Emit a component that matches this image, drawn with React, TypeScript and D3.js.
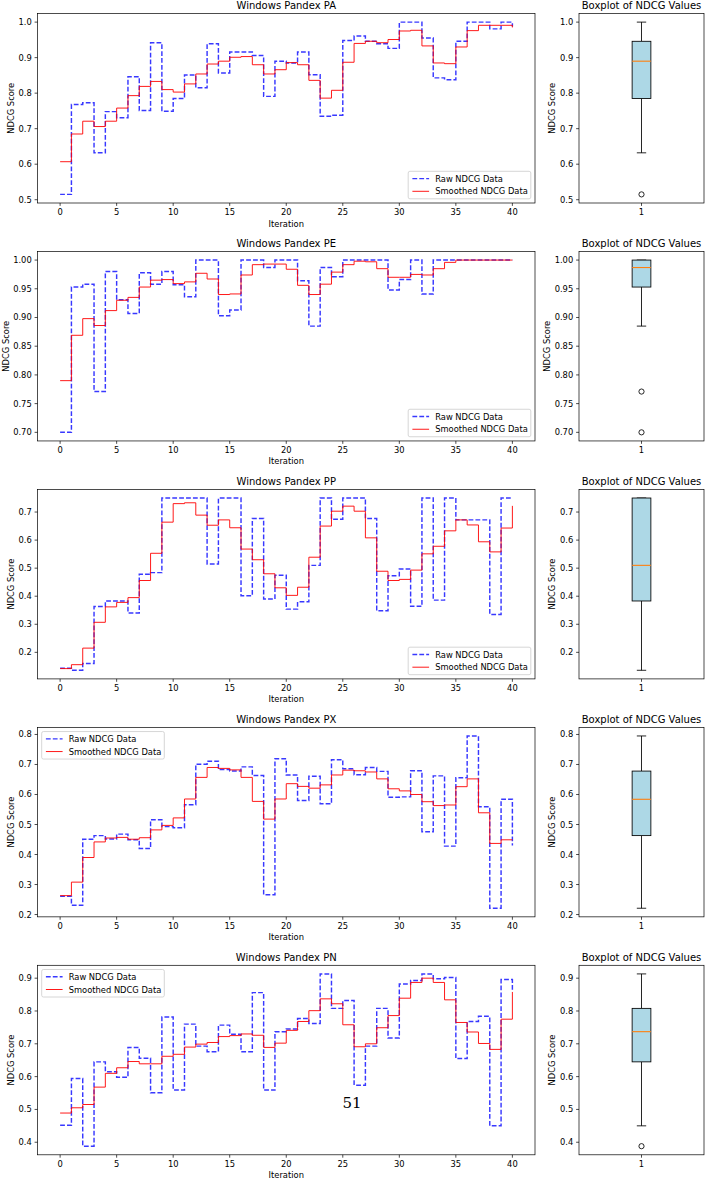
import React from 'react';
import * as d3 from 'd3';

// ---- data ----
const titles = ['Windows Pandex PA', 'Windows Pandex PE', 'Windows Pandex PP', 'Windows Pandex PX', 'Windows Pandex PN'];
const legendCorners = ['lower right', 'lower right', 'lower right', 'upper left', 'upper left'];
const seriesNames = ['Raw NDCG Data', 'Smoothed NDCG Data'];
const boxCategories = ['1'];

const rawPA = [0.515, 0.768, 0.773, 0.632, 0.748, 0.731, 0.846, 0.751, 0.942, 0.749, 0.785, 0.851, 0.815, 0.939, 0.857, 0.916, 0.916, 0.906, 0.791, 0.890, 0.885, 0.916, 0.852, 0.735, 0.738, 0.948, 0.961, 0.946, 0.939, 0.926, 1.0, 1.0, 0.955, 0.843, 0.838, 0.946, 1.0, 1.0, 0.981, 1.0, 0.988];
const smoothPA = [0.607, 0.685, 0.721, 0.706, 0.721, 0.758, 0.793, 0.819, 0.833, 0.810, 0.803, 0.826, 0.854, 0.882, 0.890, 0.901, 0.903, 0.880, 0.854, 0.866, 0.886, 0.880, 0.836, 0.786, 0.808, 0.887, 0.940, 0.946, 0.942, 0.951, 0.975, 0.977, 0.933, 0.885, 0.883, 0.930, 0.976, 0.991, 0.991, 0.991, 0.985];

const rawPE = [0.700, 0.953, 0.958, 0.771, 0.980, 0.931, 0.907, 0.978, 0.958, 0.980, 0.957, 0.936, 1.0, 1.0, 0.903, 0.913, 1.0, 1.0, 0.987, 1.0, 1.0, 0.964, 0.885, 0.987, 0.971, 1.0, 1.0, 1.0, 1.0, 0.948, 0.966, 1.0, 0.941, 1.0, 1.0, 1.0, 1.0, 1.0, 1.0, 1.0, 1.0];
const smoothPE = [0.790, 0.869, 0.898, 0.886, 0.912, 0.930, 0.935, 0.953, 0.965, 0.966, 0.959, 0.962, 0.977, 0.967, 0.940, 0.941, 0.974, 0.992, 0.993, 0.993, 0.984, 0.956, 0.940, 0.958, 0.979, 0.992, 0.998, 0.997, 0.985, 0.970, 0.970, 0.975, 0.974, 0.985, 0.996, 1.0, 1.0, 1.0, 1.0, 1.0, 1.0];

const rawPP = [0.143, 0.136, 0.160, 0.363, 0.383, 0.383, 0.340, 0.478, 0.484, 0.750, 0.750, 0.750, 0.750, 0.515, 0.750, 0.750, 0.402, 0.677, 0.390, 0.475, 0.354, 0.380, 0.510, 0.750, 0.674, 0.750, 0.750, 0.677, 0.348, 0.473, 0.497, 0.364, 0.750, 0.386, 0.750, 0.672, 0.672, 0.672, 0.335, 0.750, 0.750];
const smoothPP = [0.142, 0.156, 0.215, 0.307, 0.362, 0.378, 0.395, 0.456, 0.553, 0.664, 0.730, 0.733, 0.689, 0.653, 0.672, 0.644, 0.568, 0.530, 0.480, 0.430, 0.403, 0.432, 0.539, 0.650, 0.703, 0.721, 0.703, 0.608, 0.489, 0.456, 0.460, 0.493, 0.551, 0.578, 0.633, 0.672, 0.654, 0.594, 0.558, 0.643, 0.722];

const rawPX = [0.261, 0.231, 0.451, 0.463, 0.452, 0.468, 0.449, 0.420, 0.516, 0.493, 0.489, 0.566, 0.701, 0.711, 0.683, 0.678, 0.692, 0.663, 0.266, 0.719, 0.665, 0.580, 0.661, 0.569, 0.716, 0.686, 0.666, 0.690, 0.677, 0.591, 0.592, 0.679, 0.476, 0.662, 0.428, 0.656, 0.795, 0.559, 0.221, 0.584, 0.430];
const smoothPX = [0.263, 0.308, 0.390, 0.442, 0.455, 0.457, 0.451, 0.456, 0.482, 0.497, 0.522, 0.585, 0.657, 0.690, 0.687, 0.682, 0.657, 0.577, 0.518, 0.585, 0.636, 0.627, 0.621, 0.632, 0.665, 0.681, 0.679, 0.675, 0.652, 0.619, 0.612, 0.600, 0.576, 0.563, 0.565, 0.626, 0.652, 0.539, 0.437, 0.449, 0.449];

const rawPN = [0.452, 0.594, 0.388, 0.645, 0.615, 0.598, 0.689, 0.656, 0.551, 0.782, 0.559, 0.760, 0.693, 0.676, 0.757, 0.729, 0.676, 0.856, 0.559, 0.737, 0.745, 0.777, 0.762, 0.913, 0.808, 0.832, 0.574, 0.693, 0.808, 0.718, 0.882, 0.893, 0.913, 0.898, 0.902, 0.655, 0.768, 0.784, 0.450, 0.896, 0.858];
const smoothPN = [0.489, 0.505, 0.515, 0.568, 0.610, 0.627, 0.646, 0.639, 0.639, 0.662, 0.668, 0.690, 0.699, 0.704, 0.722, 0.725, 0.730, 0.726, 0.689, 0.702, 0.741, 0.768, 0.801, 0.837, 0.822, 0.758, 0.691, 0.700, 0.749, 0.786, 0.839, 0.887, 0.900, 0.887, 0.834, 0.765, 0.736, 0.701, 0.683, 0.775, 0.858];

const rawSeries = [rawPA, rawPE, rawPP, rawPX, rawPN];
const smoothSeries = [smoothPA, smoothPE, smoothPP, smoothPX, smoothPN];
const xTickValues = [0, 5, 10, 15, 20, 25, 30, 35, 40];

// ---- layout ----
const W = 705;
const H = 1181;
const plotLeft = 37.5;
const plotRight = 535;
const boxLeft = 579;
const boxRight = 704;
const rowTop0 = 13.5;
const rowPitch = 237.95;
const plotH = 189.5;

const FONT = '"DejaVu Sans", sans-serif';
const TICK_FS = 8.33;
const TITLE_FS = 10;
const TICK_LEN = 2.9;
const TICK_PAD = 2.9;
const AXIS_W = 0.7;

const RAW_STYLE = { stroke: 'blue', strokeOpacity: 0.78, strokeWidth: 1.45, strokeDasharray: '4.8 2.1' };
const SMOOTH_STYLE = { stroke: 'red', strokeOpacity: 0.9, strokeWidth: 1 };

// rough DejaVu Sans widths for the tick labels (only digits and dot)
const labelWidth = (s: string) =>
  s.split('').reduce((acc, c) => acc + (c === '.' ? 0.318 : 0.636), 0) * TICK_FS;

type Stats = { q1: number; med: number; q3: number; lo: number; hi: number; fliers: number[] };

// same rules as matplotlib boxplot (linear quantiles, 1.5 IQR whiskers)
const boxStats = (values: number[]): Stats => {
  const s = values.slice().sort(d3.ascending);
  const q1 = d3.quantileSorted(s, 0.25) as number;
  const med = d3.quantileSorted(s, 0.5) as number;
  const q3 = d3.quantileSorted(s, 0.75) as number;
  const iqr = q3 - q1;
  const inside = s.filter(v => v >= q1 - 1.5 * iqr && v <= q3 + 1.5 * iqr);
  return {
    q1, med, q3,
    lo: d3.min(inside) as number,
    hi: d3.max(inside) as number,
    fliers: s.filter(v => v < q1 - 1.5 * iqr || v > q3 + 1.5 * iqr),
  };
};

const YAxis = ({ y, left, top, bottom, ticks, fmt }: any) => {
  const maxW = d3.max(ticks.map((t: number) => labelWidth(fmt(t)))) as number;
  const labelX = left - TICK_LEN - TICK_PAD - maxW - 3.3 - 4.2;
  return (
    <g>
      {ticks.map((t: number) => (
        <g key={t}>
          <line x1={left - TICK_LEN} x2={left} y1={y(t)} y2={y(t)} stroke="#000" strokeWidth={AXIS_W} />
          <text x={left - TICK_LEN - TICK_PAD} y={y(t) + 3} textAnchor="end" fontSize={TICK_FS} fill="#000">
            {fmt(t)}
          </text>
        </g>
      ))}
      <text
        transform={`translate(${labelX},${(top + bottom) / 2}) rotate(-90)`}
        textAnchor="middle"
        dy={3}
        fontSize={TICK_FS}
        fill="#000"
      >
        NDCG Score
      </text>
    </g>
  );
};

const Row = ({ idx }: { idx: number }) => {
  const raw = rawSeries[idx];
  const smooth = smoothSeries[idx];
  const top = rowTop0 + idx * rowPitch;
  const bottom = top + plotH;

  const [lo, hi] = d3.extent(raw.concat(smooth)) as [number, number];
  const pad = (hi - lo) * 0.05;
  const y = d3.scaleLinear().domain([lo - pad, hi + pad]).range([bottom, top]);
  const n = raw.length - 1;
  const x = d3.scaleLinear().domain([-n * 0.05, n * 1.05]).range([plotLeft, plotRight]);

  const step = d3.tickStep(lo - pad, hi + pad, 6);
  const fmt = d3.format(`.${d3.precisionFixed(step)}f`);
  const yTicks = y.ticks(6);

  const line = d3.line<number>()
    .x((_, i) => x(i))
    .y(d => y(d))
    .curve(d3.curveStepAfter);

  // legend
  const legW = 122.6;
  const legH = 27.5;
  const corner = legendCorners[idx];
  const legX = corner === 'upper left' ? plotLeft + 4.2 : plotRight - 4.2 - legW;
  const legY = corner === 'upper left' ? top + 4.2 : bottom - 4.2 - legH;

  // boxplot
  const st = boxStats(raw);
  const [blo, bhi] = d3.extent(raw) as [number, number];
  const bpad = (bhi - blo) * 0.05;
  const by = d3.scaleLinear().domain([blo - bpad, bhi + bpad]).range([bottom, top]);
  const bx = d3.scaleBand().domain(boxCategories).range([boxLeft, boxRight]);
  const cx = (bx(boxCategories[0]) as number) + bx.bandwidth() / 2;
  const halfBox = bx.bandwidth() * 0.15 / 2;
  const halfCap = halfBox / 2;

  return (
    <g>
      {/* step chart */}
      <text x={(plotLeft + plotRight) / 2} y={top - 4.3} textAnchor="middle" fontSize={TITLE_FS} fill="#000">
        {titles[idx]}
      </text>
      <path d={line(raw) as string} fill="none" {...RAW_STYLE} />
      <path d={line(smooth) as string} fill="none" {...SMOOTH_STYLE} />
      <rect x={plotLeft} y={top} width={plotRight - plotLeft} height={plotH} fill="none" stroke="#000" strokeWidth={AXIS_W} />
      {xTickValues.map(t => (
        <g key={t}>
          <line x1={x(t)} x2={x(t)} y1={bottom} y2={bottom + TICK_LEN} stroke="#000" strokeWidth={AXIS_W} />
          <text x={x(t)} y={bottom + 12.3} textAnchor="middle" fontSize={TICK_FS} fill="#000">{t}</text>
        </g>
      ))}
      <text x={(plotLeft + plotRight) / 2} y={bottom + 23.5} textAnchor="middle" fontSize={TICK_FS} fill="#000">
        Iteration
      </text>
      <YAxis y={y} left={plotLeft} top={top} bottom={bottom} ticks={yTicks} fmt={fmt} />

      <g>
        <rect x={legX} y={legY} width={legW} height={legH} rx={1.7} fill="#fff" fillOpacity={0.8} stroke="#ccc" strokeWidth={0.8} />
        <line x1={legX + 4.2} x2={legX + 20.9} y1={legY + 7.3} y2={legY + 7.3} {...RAW_STYLE} />
        <text x={legX + 27} y={legY + 10.3} fontSize={TICK_FS} fill="#000">{seriesNames[0]}</text>
        <line x1={legX + 4.2} x2={legX + 20.9} y1={legY + 20} y2={legY + 20} {...SMOOTH_STYLE} />
        <text x={legX + 27} y={legY + 23} fontSize={TICK_FS} fill="#000">{seriesNames[1]}</text>
      </g>

      {/* boxplot */}
      <text x={(boxLeft + boxRight) / 2} y={top - 4.3} textAnchor="middle" fontSize={TITLE_FS} fill="#000">
        Boxplot of NDCG Values
      </text>
      <line x1={cx} x2={cx} y1={by(st.q1)} y2={by(st.lo)} stroke="#000" strokeWidth={0.85} />
      <line x1={cx} x2={cx} y1={by(st.q3)} y2={by(st.hi)} stroke="#000" strokeWidth={0.85} />
      <line x1={cx - halfCap} x2={cx + halfCap} y1={by(st.lo)} y2={by(st.lo)} stroke="#000" strokeWidth={0.85} />
      <line x1={cx - halfCap} x2={cx + halfCap} y1={by(st.hi)} y2={by(st.hi)} stroke="#000" strokeWidth={0.85} />
      <rect x={cx - halfBox} y={by(st.q3)} width={halfBox * 2} height={Math.max(0.5, by(st.q1) - by(st.q3))} fill="#add8e6" stroke="#000" strokeWidth={0.85} />
      <line x1={cx - halfBox} x2={cx + halfBox} y1={by(st.med)} y2={by(st.med)} stroke="#ff7f0e" strokeWidth={1.1} />
      {st.fliers.map((f, i) => (
        <circle key={i} cx={cx} cy={by(f)} r={2.6} fill="none" stroke="#000" strokeWidth={0.85} />
      ))}
      <rect x={boxLeft} y={top} width={boxRight - boxLeft} height={plotH} fill="none" stroke="#000" strokeWidth={AXIS_W} />
      <line x1={cx} x2={cx} y1={bottom} y2={bottom + TICK_LEN} stroke="#000" strokeWidth={AXIS_W} />
      <text x={cx} y={bottom + 12.3} textAnchor="middle" fontSize={TICK_FS} fill="#000">{boxCategories[0]}</text>
      <YAxis y={by} left={boxLeft} top={top} bottom={bottom} ticks={by.ticks(6)} fmt={fmt} />
    </g>
  );
};

const App = () => {
  return (
    <svg
      width={W}
      height={H}
      viewBox={`0 0 ${W} ${H}`}
      style={{ position: 'absolute', left: 0, top: 0, background: '#fff' }}
      fontFamily={FONT}
    >
      <rect width={W} height={H} fill="#fff" />
      {titles.map((_, i) => <Row key={i} idx={i} />)}
      {/* page number that sits on the scanned page */}
      <text x={342.5} y={1108} fontFamily='"DejaVu Serif", serif' fontSize={15} fill="#000">51</text>
    </svg>
  );
};

export default App;
